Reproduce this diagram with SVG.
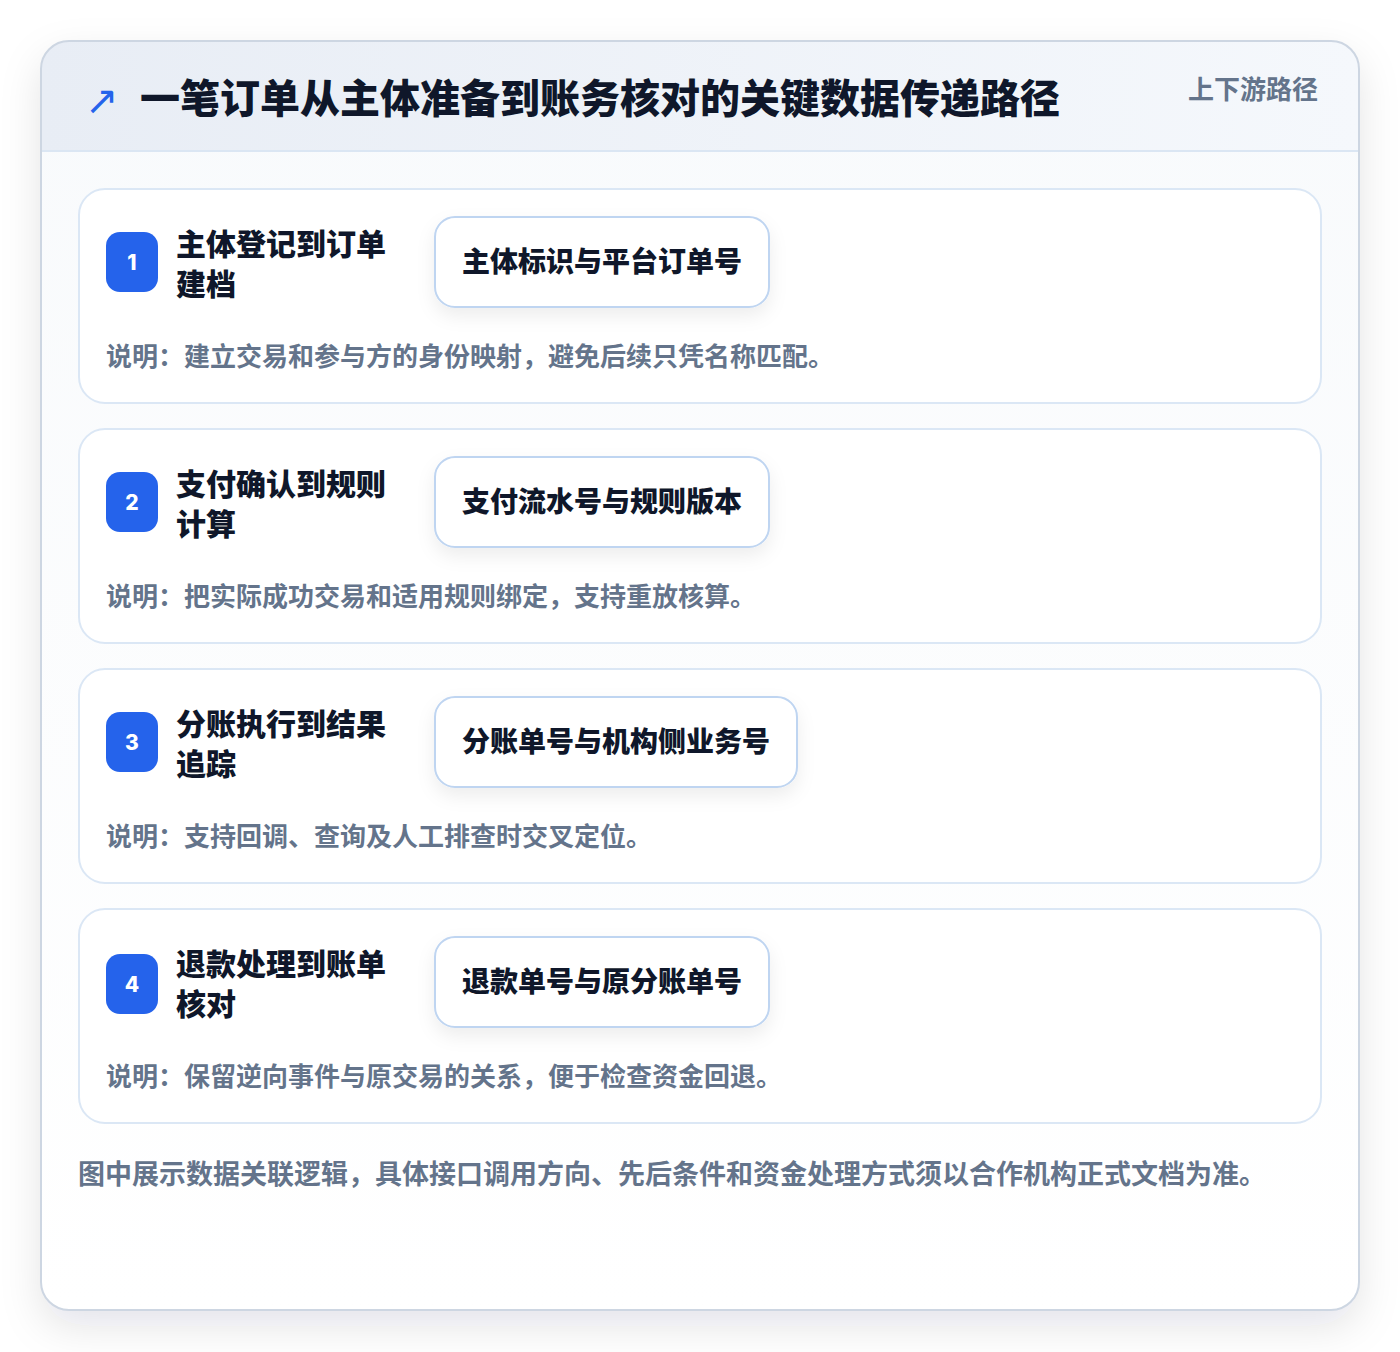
<svg xmlns="http://www.w3.org/2000/svg" width="1400" height="1352" viewBox="0 0 1400 1352">
<defs>
<linearGradient id="hdr" x1="0" y1="0" x2="1" y2="0"><stop offset="0" stop-color="#e8edf5"/><stop offset="1" stop-color="#f5f8fc"/></linearGradient>
<linearGradient id="body" x1="0" y1="0" x2="0" y2="1"><stop offset="0" stop-color="#f8fafc"/><stop offset="1" stop-color="#ffffff"/></linearGradient>
<filter id="outer" x="-10%" y="-10%" width="120%" height="125%"><feDropShadow dx="0" dy="16" stdDeviation="20" flood-color="#0f172a" flood-opacity="0.11"/></filter>
<filter id="pill" x="-20%" y="-30%" width="140%" height="180%"><feDropShadow dx="0" dy="8" stdDeviation="9" flood-color="#0f172a" flood-opacity="0.07"/></filter>
<clipPath id="cardclip"><rect x="41" y="41" width="1318" height="1269" rx="28"/></clipPath>
<style>
.cjk{font-family:"Noto Sans CJK SC","Noto Sans",sans-serif;font-weight:700}
.heavy{font-weight:800}
.title{font-size:40px;fill:#0f172a}
.tag{font-size:26px;fill:#64748b}
.step{fill:#ffffff;stroke:#dbe7f5;stroke-width:2}
.badge{fill:#2563eb}
.num{font-family:Inter,"Noto Sans",sans-serif;font-weight:800;font-size:21px;fill:#ffffff}
.stitle{font-size:30px;fill:#0f172a}
.pillbox{fill:#ffffff;stroke:#bfd5f1;stroke-width:2}
.ptext{font-size:28px;fill:#0f172a}
.desc{font-size:26px;fill:#64748b}
.foot{font-size:27px;fill:#64748b}
</style>
</defs>
<rect width="1400" height="1352" fill="#ffffff"/>
<g id="frame">
<rect x="41" y="41" width="1318" height="1269" rx="28" fill="url(#body)" filter="url(#outer)"/>
<g clip-path="url(#cardclip)">
<rect x="41" y="41" width="1318" height="110" fill="url(#hdr)"/>
<line x1="41" y1="151" x2="1359" y2="151" stroke="#dbe6f3" stroke-width="2"/>
</g>
<rect x="41" y="41" width="1318" height="1269" rx="28" fill="none" stroke="#cdd6e2" stroke-width="2"/>
</g>
<g id="header">
<text x="85" y="114" font-family="DejaVu Sans,sans-serif" font-size="40" fill="#2563eb">↗</text>
<text class="cjk heavy title" x="140" y="113">一笔订单从主体准备到账务核对的关键数据传递路径</text>
<text class="cjk tag" x="1318" y="99" text-anchor="end">上下游路径</text>
</g>
<g id="connectors"></g>
<g id="step1">
<rect class="step" x="79" y="189" width="1242" height="214" rx="26"/>
<rect class="badge" x="106" y="232" width="52" height="60" rx="14"/>
<text class="num" x="132" y="270" text-anchor="middle">1</text>
<text class="cjk heavy stitle" x="176" y="255">主体登记到订单</text>
<text class="cjk heavy stitle" x="176" y="295">建档</text>
<rect class="pillbox" x="435" y="217" width="334" height="90" rx="20" filter="url(#pill)"/>
<text class="cjk heavy ptext" x="602" y="272" text-anchor="middle">主体标识与平台订单号</text>
<text class="cjk desc" x="106" y="366">说明：建立交易和参与方的身份映射，避免后续只凭名称匹配。</text>
</g>
<g id="step2">
<rect class="step" x="79" y="429" width="1242" height="214" rx="26"/>
<rect class="badge" x="106" y="472" width="52" height="60" rx="14"/>
<text class="num" x="132" y="510" text-anchor="middle">2</text>
<text class="cjk heavy stitle" x="176" y="495">支付确认到规则</text>
<text class="cjk heavy stitle" x="176" y="535">计算</text>
<rect class="pillbox" x="435" y="457" width="334" height="90" rx="20" filter="url(#pill)"/>
<text class="cjk heavy ptext" x="602" y="512" text-anchor="middle">支付流水号与规则版本</text>
<text class="cjk desc" x="106" y="606">说明：把实际成功交易和适用规则绑定，支持重放核算。</text>
</g>
<g id="step3">
<rect class="step" x="79" y="669" width="1242" height="214" rx="26"/>
<rect class="badge" x="106" y="712" width="52" height="60" rx="14"/>
<text class="num" x="132" y="750" text-anchor="middle">3</text>
<text class="cjk heavy stitle" x="176" y="735">分账执行到结果</text>
<text class="cjk heavy stitle" x="176" y="775">追踪</text>
<rect class="pillbox" x="435" y="697" width="362" height="90" rx="20" filter="url(#pill)"/>
<text class="cjk heavy ptext" x="616" y="752" text-anchor="middle">分账单号与机构侧业务号</text>
<text class="cjk desc" x="106" y="846">说明：支持回调、查询及人工排查时交叉定位。</text>
</g>
<g id="step4">
<rect class="step" x="79" y="909" width="1242" height="214" rx="26"/>
<rect class="badge" x="106" y="954" width="52" height="60" rx="14"/>
<text class="num" x="132" y="992" text-anchor="middle">4</text>
<text class="cjk heavy stitle" x="176" y="975">退款处理到账单</text>
<text class="cjk heavy stitle" x="176" y="1015">核对</text>
<rect class="pillbox" x="435" y="937" width="334" height="90" rx="20" filter="url(#pill)"/>
<text class="cjk heavy ptext" x="602" y="992" text-anchor="middle">退款单号与原分账单号</text>
<text class="cjk desc" x="106" y="1086">说明：保留逆向事件与原交易的关系，便于检查资金回退。</text>
</g>
<g id="footer">
<text class="cjk foot" x="78" y="1184">图中展示数据关联逻辑，具体接口调用方向、先后条件和资金处理方式须以合作机构正式文档为准。</text>
</g>
</svg>
